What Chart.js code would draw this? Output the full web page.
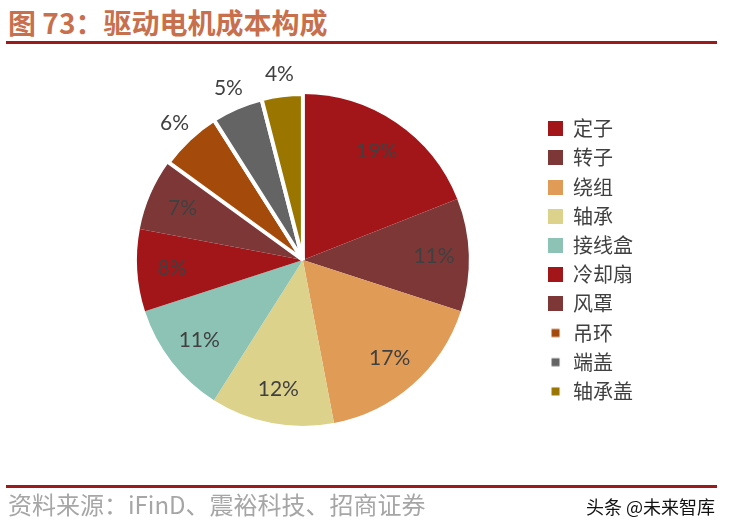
<!DOCTYPE html>
<html>
<head>
<meta charset="utf-8">
<script src="https://cdn.jsdelivr.net/npm/chart.js@4.4.1/dist/chart.umd.min.js"></script>
<style>
  html, body { margin: 0; padding: 0; background: #fff; }
  #wrap { position: relative; width: 730px; height: 531px; overflow: hidden; }
  #myPieChart { position: absolute; left: 0; top: 0; }
  .title { position: absolute; left: 8px; top: 7px; font: bold 28px "Noto Sans CJK SC"; line-height: 30px; color: #C8704E; white-space: nowrap; }
  .rule { position: absolute; left: 6px; width: 711px; height: 3px; background: #9B1B1B; }
  .src { position: absolute; left: 8px; top: 489px; font: 24px "Noto Sans CJK SC"; line-height: 30px; color: #A6A6A6; white-space: nowrap; }
  .mark { position: absolute; right: 15px; top: 494px; font: 18px "Noto Sans CJK SC"; line-height: 24px; color: #111; white-space: nowrap; }
</style>
</head>
<body>
<div id="wrap">
  <div class="title">图 73：驱动电机成本构成</div>
  <div class="rule" style="top:41px"></div>
  <canvas id="myPieChart" width="730" height="531"></canvas>
  <div class="rule" style="top:485px"></div>
  <div class="src">资料来源：iFinD、震裕科技、招商证券</div>
  <div class="mark">头条 @未来智库</div>
</div>
<script>
// --- data ---
const categories = ['定子', '转子', '绕组', '轴承', '接线盒', '冷却扇', '风罩', '吊环', '端盖', '轴承盖'];
const shares = [19, 11, 17, 12, 11, 8, 7, 6, 5, 4];

// --- styling ---
const sliceColors = ['#A2161A', '#7E3737', '#E09B57', '#DDD28C', '#8CC3B5', '#A2161A', '#7E3737', '#A44B0C', '#646464', '#9A7500'];
const sliceBorders = [0, 0, 0, 0, 0, 0, 0, 4, 4, 4];   // last three are split off with white gaps
const labelOutside = [false, false, false, false, false, false, false, true, true, true];
const legendBoxSizes = [15, 15, 15, 15, 15, 15, 15, 8, 8, 8];

// square legend marker of a given size, centred in a 15px cell
function legendSwatch(color, size) {
  const c = document.createElement('canvas');
  c.width = 15; c.height = 15;
  const g = c.getContext('2d');
  g.fillStyle = color;
  const o = (15 - size) / 2;
  g.fillRect(o, o, size, size);
  return c;
}

const pctLabels = {
  id: 'pctLabels',
  afterDatasetsDraw(chart) {
    const ctx = chart.ctx;
    const meta = chart.getDatasetMeta(0);
    ctx.save();
    ctx.font = '21px Lato';
    ctx.fillStyle = '#404040';
    ctx.textAlign = 'center';
    ctx.textBaseline = 'middle';
    meta.data.forEach((arc, i) => {
      const p = arc.getProps(['x', 'y', 'startAngle', 'endAngle', 'outerRadius']);
      const mid = (p.startAngle + p.endAngle) / 2;
      const f = labelOutside[i] ? 1.13 : 0.79;
      ctx.fillText(shares[i] + '%', p.x + Math.cos(mid) * p.outerRadius * f, p.y + Math.sin(mid) * p.outerRadius * f);
    });
    ctx.restore();
  }
};

const canvas = document.getElementById('myPieChart');
const pie = new Chart(canvas.getContext('2d'), {
  type: 'pie',
  data: {
    labels: categories,
    datasets: [{
      data: shares,
      backgroundColor: sliceColors,
      borderColor: '#ffffff',
      borderWidth: sliceBorders,
      radius: 166
    }]
  },
  options: {
    responsive: false,
    animation: false,
    events: [],
    layout: { padding: { top: 60, bottom: 71, left: 67, right: 87 } },
    plugins: {
      tooltip: { enabled: false },
      legend: {
        position: 'right',
        align: 'center',
        labels: {
          usePointStyle: true,
          boxWidth: 15,
          boxHeight: 15,
          padding: 9.2,
          color: '#404040',
          font: { family: '"Noto Sans CJK SC"', size: 20 },
          generateLabels: () => categories.map((c, i) => ({
            text: c,
            fillStyle: sliceColors[i],
            strokeStyle: sliceColors[i],
            lineWidth: 0,
            pointStyle: legendSwatch(sliceColors[i], legendBoxSizes[i]),
            fontColor: '#404040',
            hidden: false,
            index: i
          }))
        }
      }
    }
  },
  plugins: [pctLabels]
});
</script>
</body>
</html>
